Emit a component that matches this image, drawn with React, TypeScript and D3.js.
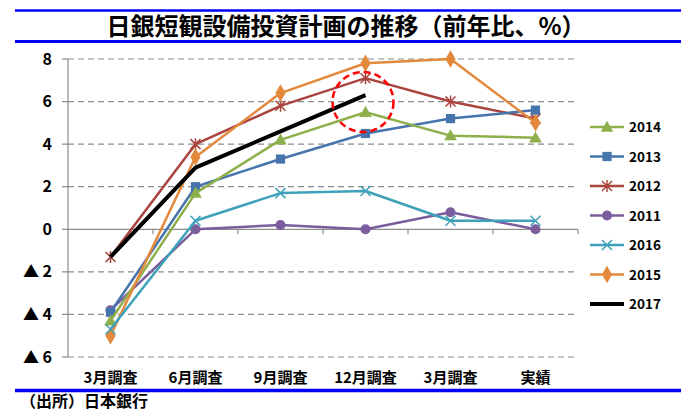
import React from "react";
import * as d3 from "d3";

const categories = ["3月調査", "6月調査", "9月調査", "12月調査", "3月調査 ", "実績"];
const yTicks = [8, 6, 4, 2, 0, -2, -4, -6];
const s2014 = [-4.3, 1.7, 4.2, 5.5, 4.4, 4.3];
const s2013 = [-3.9, 2.0, 3.3, 4.5, 5.2, 5.6];
const s2012 = [-1.3, 4.0, 5.8, 7.1, 6.0, 5.2];
const s2011 = [-3.8, 0.0, 0.2, 0.0, 0.8, 0.0];
const s2016 = [-4.7, 0.4, 1.7, 1.8, 0.4, 0.4];
const s2015 = [-5.0, 3.4, 6.4, 7.8, 8.0, 5.0];
const s2017 = [-1.3, 2.9, 4.6, 6.3];

type Series = { name: string; values: number[]; color: string; marker: string; width: number };

const series: Series[] = [
  { name: "2014", values: s2014, color: "#8EB04C", marker: "triangle", width: 2.5 },
  { name: "2013", values: s2013, color: "#4674AC", marker: "square", width: 2.5 },
  { name: "2012", values: s2012, color: "#A9443F", marker: "star", width: 2.5 },
  { name: "2011", values: s2011, color: "#7B5C9C", marker: "circle", width: 2.5 },
  { name: "2016", values: s2016, color: "#3FA1B9", marker: "x", width: 2.5 },
  { name: "2015", values: s2015, color: "#E2893C", marker: "diamond", width: 2.5 },
  { name: "2017", values: s2017, color: "#000000", marker: "none", width: 4 },
];
const drawOrder = ["2011", "2012", "2013", "2014", "2015", "2016", "2017"];

const FONT = "'Noto Sans CJK JP', 'Noto Sans', sans-serif";

function Marker({ kind, x, y, color }: { kind: string; x: number; y: number; color: string }) {
  if (kind === "none") return null;
  if (kind === "triangle") {
    const p = d3.symbol().type(d3.symbolTriangle).size(70)();
    return <path d={p || ""} transform={`translate(${x},${y + 1})`} fill={color} />;
  }
  if (kind === "square") {
    const p = d3.symbol().type(d3.symbolSquare).size(85)();
    return <path d={p || ""} transform={`translate(${x},${y})`} fill={color} />;
  }
  if (kind === "circle") {
    const p = d3.symbol().type(d3.symbolCircle).size(80)();
    return <path d={p || ""} transform={`translate(${x},${y})`} fill={color} />;
  }
  if (kind === "diamond") {
    const p = d3.symbol().type(d3.symbolDiamond).size(90)();
    return <path d={p || ""} transform={`translate(${x},${y})`} fill={color} />;
  }
  const r = 5;
  const pth = d3.path();
  pth.moveTo(-r, -r); pth.lineTo(r, r);
  pth.moveTo(-r, r); pth.lineTo(r, -r);
  if (kind === "star") { pth.moveTo(0, -r - 1); pth.lineTo(0, r + 1); }
  return <path d={pth.toString()} transform={`translate(${x},${y})`} stroke={color} strokeWidth={1.5} fill="none" />;
}

export default function App() {
  const W = 693, H = 410;
  const left = 68, right = 578, top = 59, bottom = 357;
  const x = d3.scaleBand<string>().domain(categories).range([left, right]).padding(0);
  const cx = (i: number) => (x(categories[i]) as number) + x.bandwidth() / 2;
  const y = d3.scaleLinear().domain([-6, 8]).range([bottom, top]);
  const line = d3.line<number>().x((_, i) => cx(i)).y((d) => y(d));
  const byName = new Map(series.map((s) => [s.name, s]));
  const legX = 590, legY0 = 127, legStep = 29.5;

  return (
    <svg width={W} height={H} style={{ position: "absolute", left: 0, top: 0, background: "#fff" }} fontFamily={FONT}>
      <rect x={0} y={0} width={W} height={H} fill="#fff" />
      {/* title */}
      <line x1={15} x2={681} y1={10.5} y2={10.5} stroke="#0000FF" strokeWidth={2.5} />
      <line x1={15} x2={681} y1={41.5} y2={41.5} stroke="#0000FF" strokeWidth={3} />
      <text x={346} y={35} textAnchor="middle" fontSize={24} fontWeight="bold" fill="#000">
        日銀短観設備投資計画の推移（前年比、%）
      </text>

      {/* grid */}
      {yTicks.map((t) => (
        <g key={t}>
          {t !== 0 && (
            <line x1={left} x2={right} y1={y(t)} y2={y(t)} stroke="#8C8C8C" strokeWidth={1.2} strokeDasharray="6,4" />
          )}
          <line x1={left - 6} x2={left} y1={y(t)} y2={y(t)} stroke="#8C8C8C" strokeWidth={1.2} />
          <text x={52} y={y(t) + 5.5} textAnchor="end" fontSize={16} fontWeight="bold" fill="#000">
            {t < 0 ? `▲ ${-t}` : `${t}`}
          </text>
        </g>
      ))}
      <line x1={left} x2={left} y1={top} y2={bottom} stroke="#8C8C8C" strokeWidth={1.2} />
      <line x1={left} x2={right} y1={y(0)} y2={y(0)} stroke="#8C8C8C" strokeWidth={1.2} />
      {categories.map((c, i) => (
        <line key={"t" + i} x1={(x(c) as number) + x.bandwidth()} x2={(x(c) as number) + x.bandwidth()} y1={y(0)} y2={y(0) + 5} stroke="#8C8C8C" strokeWidth={1.2} />
      ))}
      {categories.map((c, i) => (
        <text key={"l" + i} x={cx(i)} y={382.5} textAnchor="middle" fontSize={15} fontWeight="bold" fill="#000">
          {c.trim()}
        </text>
      ))}

      {/* series */}
      {drawOrder.map((n) => {
        const s = byName.get(n)!;
        return (
          <g key={n}>
            <path d={line(s.values) || ""} fill="none" stroke={s.color} strokeWidth={s.width} strokeLinejoin="round" />
            {s.values.map((v, i) => (
              <Marker key={i} kind={s.marker} x={cx(i)} y={y(v)} color={s.color} />
            ))}
          </g>
        );
      })}

      {/* highlight circle */}
      <ellipse cx={363} cy={102} rx={30.5} ry={30} fill="none" stroke="#FF0000" strokeWidth={2.5} strokeDasharray="7,4" />

      {/* legend */}
      {series.map((s, i) => {
        const ly = legY0 + i * legStep;
        return (
          <g key={"leg" + s.name}>
            <line x1={legX} x2={legX + 34} y1={ly} y2={ly} stroke={s.color} strokeWidth={s.width} />
            <Marker kind={s.marker} x={legX + 17} y={ly} color={s.color} />
            <text x={629} y={ly + 5} fontSize={13.5} fontWeight="bold" fill="#000">{s.name}</text>
          </g>
        );
      })}

      {/* bottom */}
      <line x1={15} x2={681} y1={390.5} y2={390.5} stroke="#0000FF" strokeWidth={3.3} />
      <text x={20} y={406.5} fontSize={16} fontWeight="bold" fill="#000">（出所）日本銀行</text>
    </svg>
  );
}
